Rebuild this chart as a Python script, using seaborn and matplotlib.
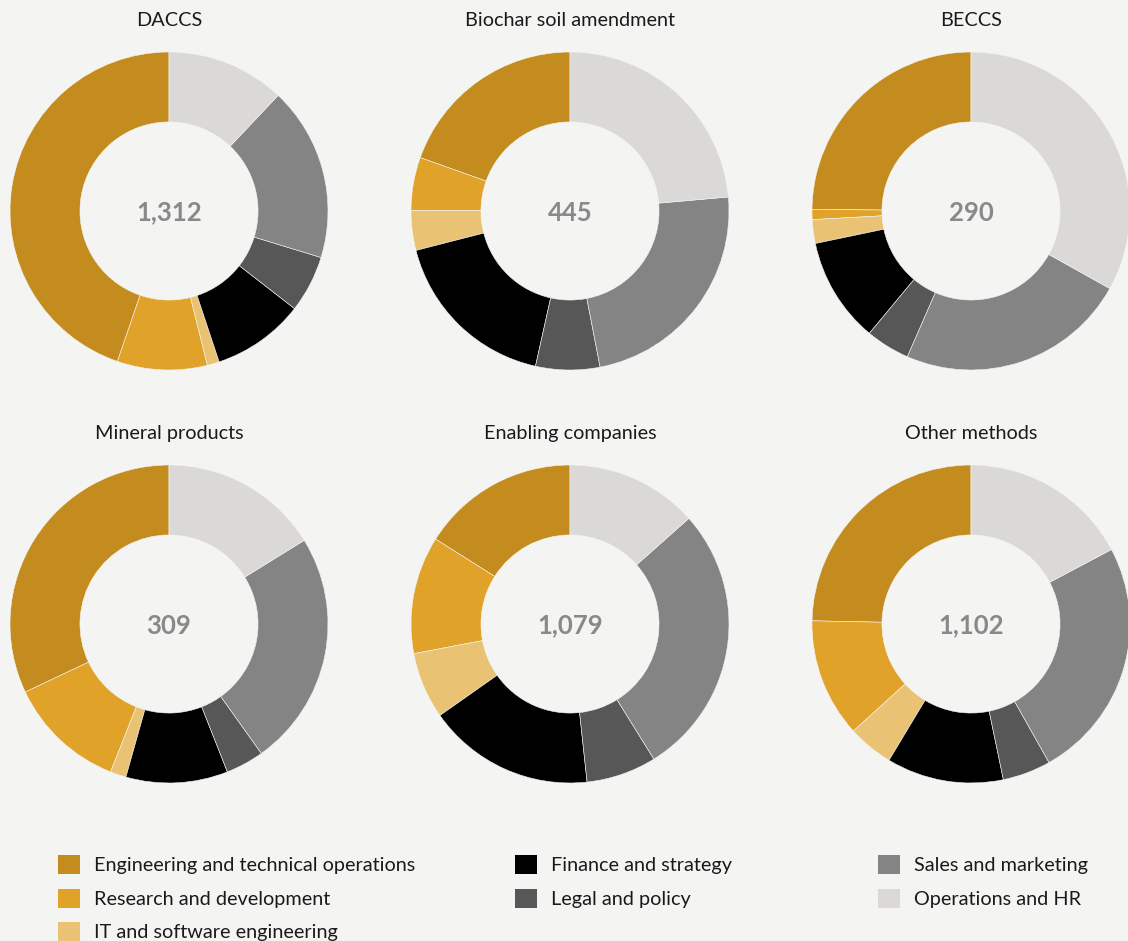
import matplotlib
matplotlib.use("Agg")
import matplotlib.pyplot as plt
from matplotlib.patches import Patch
import seaborn as sns

# Headcount by job function for each carbon-removal method
methods = ["DACCS", "Biochar soil amendment", "BECCS",
           "Mineral products", "Enabling companies", "Other methods"]
functions = ["Engineering and technical operations", "Research and development",
             "IT and software engineering", "Finance and strategy",
             "Legal and policy", "Sales and marketing", "Operations and HR"]

daccs = [587, 120, 16, 123, 76, 232, 158]
biochar = [87, 24, 18, 78, 29, 104, 105]
beccs = [72, 3, 7, 31, 13, 68, 96]
mineral = [99, 37, 5, 32, 12, 74, 50]
enabling = [173, 129, 73, 183, 77, 299, 145]
other = [272, 133, 51, 131, 54, 271, 190]
series = [daccs, biochar, beccs, mineral, enabling, other]

colors = ["#c48c1f", "#e0a229", "#e9c373", "#000000",
          "#575757", "#838483", "#dad9d7"]
bg = "#f4f5f3"

sns.set_theme(style="white")
plt.rcParams["font.family"] = ["Lato", "DejaVu Sans"]

W, H = 1128, 941
fig = plt.figure(figsize=(W / 100, H / 100), dpi=100, facecolor=bg)

centers = [(169, 211), (570, 211), (971, 211),
           (169, 624), (570, 624), (971, 624)]
R = 159

for (cx, cy), name, vals in zip(centers, methods, series):
    ax = fig.add_axes([(cx - R) / W, 1 - (cy + R) / H, 2 * R / W, 2 * R / H])
    ax.set_facecolor(bg)
    ax.pie(vals, colors=colors, startangle=90, counterclock=True, radius=1,
           wedgeprops=dict(width=0.44, edgecolor=bg, linewidth=0.4))
    ax.set_xlim(-1, 1)
    ax.set_ylim(-1, 1)
    ax.set_aspect("equal")
    ax.axis("off")
    ax.text(0, -0.01, f"{sum(vals):,}", ha="center", va="center",
            fontsize=18.5, fontweight="bold", color="#898989")
    fig.text(cx / W, 1 - 20 / H if cy < 400 else 1 - 433 / H, name,
             ha="center", va="center", fontsize=14.3, color="#1a1a1a")

# Legend in three columns
groups = [(range(0, 3), 58), (range(3, 5), 515), (range(5, 7), 878)]
for idx, x in groups:
    handles = [Patch(facecolor=colors[i], edgecolor="none", label=functions[i]) for i in idx]
    fig.legend(handles=handles, loc="upper left",
               bbox_to_anchor=(x / W, 1 - 855 / H), frameon=False,
               fontsize=14.3, handlelength=1.1, handleheight=1.1,
               handletextpad=0.7, labelspacing=0.72, borderpad=0,
               borderaxespad=0, labelcolor="#1a1a1a")

fig.savefig("out.png", dpi=100, facecolor=bg)
